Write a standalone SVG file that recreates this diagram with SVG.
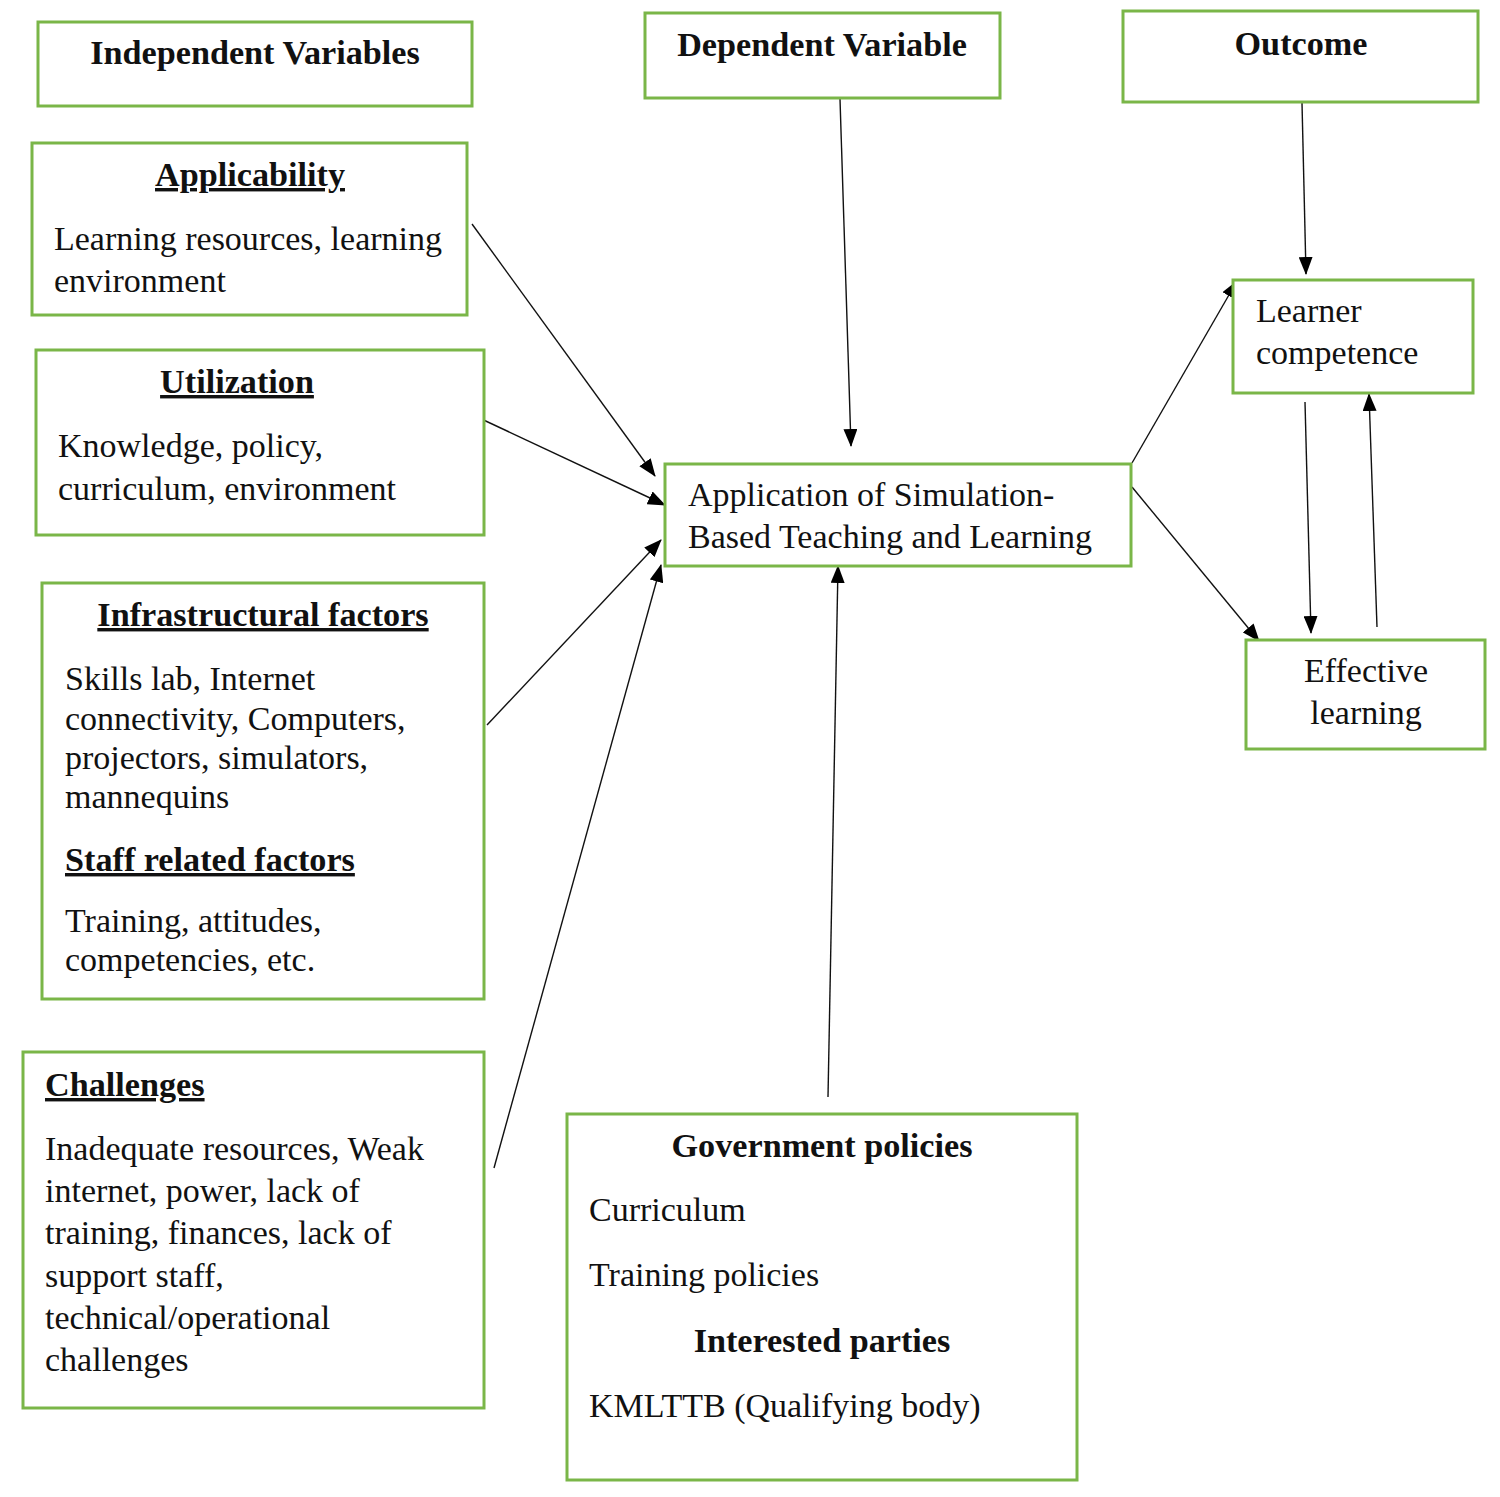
<svg xmlns="http://www.w3.org/2000/svg" width="1500" height="1497" viewBox="0 0 1500 1497">
<style>
.box{fill:#fff;stroke:#7ab648;stroke-width:3}
text{font-family:"Liberation Serif","Times New Roman",serif;fill:#111}
.b{font-weight:bold;font-size:34.2px}
.t{font-size:34px}
.u{text-decoration:underline}
.c{text-anchor:middle}
.ln{stroke:#111;stroke-width:1.4;fill:none;marker-end:url(#ah)}
</style>
<defs>
<marker id="ah" markerWidth="18" markerHeight="14" refX="17" refY="7" orient="auto" markerUnits="userSpaceOnUse">
<path d="M0,0 L18,7 L0,14 Z" fill="#000"/>
</marker>
</defs>
<rect width="1500" height="1497" fill="#fff"/>
<g id="connectors">
<line class="ln" x1="472" y1="224" x2="655" y2="476"/>
<line class="ln" x1="475" y1="416" x2="665" y2="505"/>
<line class="ln" x1="487" y1="725" x2="661" y2="540"/>
<line class="ln" x1="494" y1="1168" x2="661" y2="565"/>
<line class="ln" x1="840" y1="99" x2="851" y2="446"/>
<line class="ln" x1="828" y1="1097" x2="838" y2="566"/>
<line class="ln" x1="1302" y1="103" x2="1306" y2="274"/>
<line class="ln" x1="1132" y1="463" x2="1237" y2="281"/>
<line class="ln" x1="1132" y1="487" x2="1259" y2="641"/>
<line class="ln" x1="1305" y1="402" x2="1311" y2="633"/>
<line class="ln" x1="1377" y1="627" x2="1369" y2="394"/>
</g>
<g id="independent-variables">
<rect class="box" x="38" y="22" width="434" height="84"/>
<text class="b c" x="255" y="64">Independent Variables</text>
</g>
<g id="dependent-variable">
<rect class="box" x="645" y="13" width="355" height="85"/>
<text class="b c" x="822" y="56">Dependent Variable</text>
</g>
<g id="outcome">
<rect class="box" x="1123" y="11" width="355" height="91"/>
<text class="b c" x="1301" y="55">Outcome</text>
</g>
<g id="applicability">
<rect class="box" x="32" y="143" width="435" height="172"/>
<text class="b c u" x="250" y="186">Applicability</text>
<text class="t" x="54" y="250">Learning resources, learning</text>
<text class="t" x="54" y="292">environment</text>
</g>
<g id="utilization">
<rect class="box" x="36" y="350" width="448" height="185"/>
<text class="b c u" x="237" y="393">Utilization</text>
<text class="t" x="58" y="457">Knowledge, policy,</text>
<text class="t" x="58" y="500">curriculum, environment</text>
</g>
<g id="infrastructural-factors">
<rect class="box" x="42" y="583" width="442" height="416"/>
<text class="b c u" x="263" y="626">Infrastructural factors</text>
<text class="t" x="65" y="690">Skills lab, Internet</text>
<text class="t" x="65" y="730">connectivity, Computers,</text>
<text class="t" x="65" y="769">projectors, simulators,</text>
<text class="t" x="65" y="808">mannequins</text>
<text class="b u" x="65" y="871">Staff related factors</text>
<text class="t" x="65" y="932">Training, attitudes,</text>
<text class="t" x="65" y="971">competencies, etc.</text>
</g>
<g id="challenges">
<rect class="box" x="23" y="1052" width="461" height="356"/>
<text class="b u" x="45" y="1096">Challenges</text>
<text class="t" x="45" y="1160">Inadequate resources, Weak</text>
<text class="t" x="45" y="1202">internet, power, lack of</text>
<text class="t" x="45" y="1244">training, finances, lack of</text>
<text class="t" x="45" y="1287">support staff,</text>
<text class="t" x="45" y="1329">technical/operational</text>
<text class="t" x="45" y="1371">challenges</text>
</g>
<g id="application">
<rect class="box" x="665" y="464" width="466" height="102"/>
<text class="t" x="688" y="506">Application of Simulation-</text>
<text class="t" x="688" y="548">Based Teaching and Learning</text>
</g>
<g id="government-policies">
<rect class="box" x="567" y="1114" width="510" height="366"/>
<text class="b c" x="822" y="1157">Government policies</text>
<text class="t" x="589" y="1221">Curriculum</text>
<text class="t" x="589" y="1286">Training policies</text>
<text class="b c" x="822" y="1352">Interested parties</text>
<text class="t" x="589" y="1417">KMLTTB (Qualifying body)</text>
</g>
<g id="learner-competence">
<rect class="box" x="1233" y="280" width="240" height="113"/>
<text class="t" x="1256" y="322">Learner</text>
<text class="t" x="1256" y="364">competence</text>
</g>
<g id="effective-learning">
<rect class="box" x="1246" y="640" width="239" height="109"/>
<text class="t c" x="1366" y="682">Effective</text>
<text class="t c" x="1366" y="724">learning</text>
</g>
</svg>
